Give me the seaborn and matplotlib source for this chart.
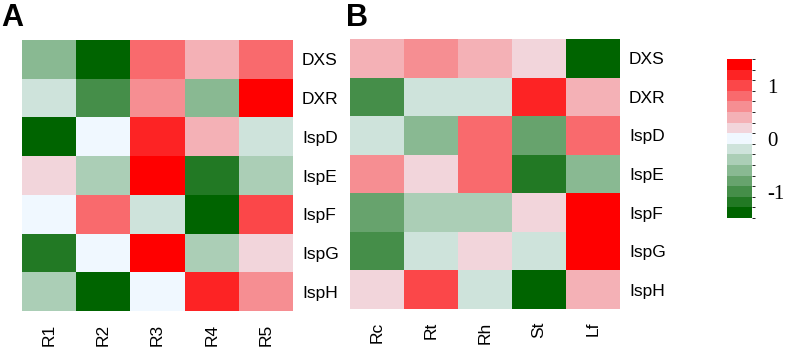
import numpy as np
import pandas as pd
import matplotlib
matplotlib.use("Agg")
import matplotlib.pyplot as plt
from matplotlib.colors import ListedColormap, BoundaryNorm, to_rgb
import seaborn as sns

genes = ["DXS", "DXR", "IspD", "IspE", "IspF", "IspG", "IspH"]
cols_a = ["R1", "R2", "R3", "R4", "R5"]
cols_b = ["Rc", "Rt", "Rh", "St", "Lf"]

# relative expression values
vals_a = [
    [-0.6, -1.4, 0.8, 0.4, 0.8],
    [-0.2, -1.0, 0.6, -0.6, 1.4],
    [-1.4, 0.0, 1.2, 0.4, -0.2],
    [0.2, -0.4, 1.4, -1.2, -0.4],
    [0.0, 0.8, -0.2, -1.4, 1.0],
    [-1.2, 0.0, 1.4, -0.4, 0.2],
    [-0.4, -1.4, 0.0, 1.2, 0.6],
]
vals_b = [
    [0.4, 0.6, 0.4, 0.2, -1.4],
    [-1.0, -0.2, -0.2, 1.2, 0.4],
    [-0.2, -0.6, 0.8, -0.8, 0.8],
    [0.6, 0.2, 0.8, -1.2, -0.6],
    [-0.8, -0.4, -0.4, 0.2, 1.4],
    [-1.0, -0.2, 0.2, -0.2, 1.4],
    [0.2, 1.0, -0.2, -1.4, 0.4],
]
cbar_ticks = [-1, 0, 1]

# discrete green - aliceblue - red palette (15 levels)
g, w, r = np.array(to_rgb("darkgreen")), np.array(to_rgb("aliceblue")), np.array(to_rgb("red"))
lower = [g + (w - g) * i / 7 for i in range(8)]
upper = [w + (r - w) * i / 7 for i in range(1, 8)]
cmap = ListedColormap(lower + upper)
norm = BoundaryNorm(np.linspace(-1.5, 1.5, 16), cmap.N)

df_a = pd.DataFrame(vals_a, index=genes, columns=cols_a)
df_b = pd.DataFrame(vals_b, index=genes, columns=cols_b)

fig = plt.figure(figsize=(7.87, 3.5), dpi=100)
ax_a = fig.add_axes([0.028, 0.1114, 0.3443, 0.7743])
ax_b = fig.add_axes([0.4447, 0.1171, 0.3431, 0.7714])
cax = fig.add_axes([0.9238, 0.3771, 0.0318, 0.4543])

sans = ["Liberation Sans", "DejaVu Sans"]
for ax, df in [(ax_a, df_a), (ax_b, df_b)]:
    sns.heatmap(df, ax=ax, cmap=cmap, norm=norm, cbar=False, linewidths=0)
    ax.yaxis.tick_right()
    ax.tick_params(axis="both", length=0)
    ax.tick_params(axis="y", pad=6.5)
    ax.tick_params(axis="x", pad=9)
    ax.set_yticklabels(df.index, rotation=0, fontsize=12.5, family=sans)
    ax.set_xticklabels(df.columns, rotation=90, fontsize=12.5, family=sans)
    ax.set_xlabel("")
    ax.set_ylabel("")

fig.text(0.002, 0.992, "A", fontsize=22, fontweight="bold", family=sans, va="top")
fig.text(0.440, 0.992, "B", fontsize=22, fontweight="bold", family=sans, va="top")

cb = fig.colorbar(ax_a.collections[0], cax=cax, ticks=cbar_ticks)
cb.outline.set_visible(False)
cb.ax.tick_params(length=0, pad=11)
cb.ax.set_yticklabels([str(t) for t in cbar_ticks], fontsize=15, family=["Liberation Serif", "DejaVu Serif"])

fig.savefig("out.png", dpi=100)
